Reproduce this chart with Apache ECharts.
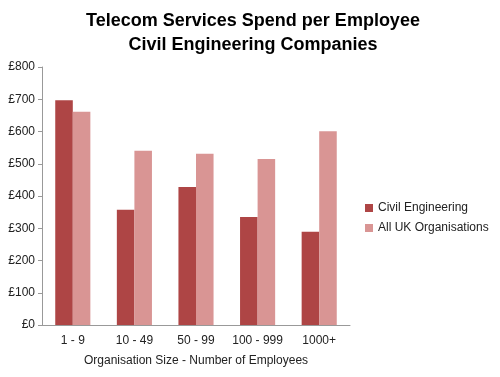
<!DOCTYPE html>
<html>
<head>
<meta charset="utf-8">
<script src="https://cdn.jsdelivr.net/npm/echarts@6/dist/echarts.min.js"></script>
<style>
  html, body { margin: 0; padding: 0; background: #fff; }
  #chart { width: 500px; height: 377px; }
</style>
</head>
<body>
<div id="chart"></div>
<script>
const categories = ['1 - 9', '10 - 49', '50 - 99', '100 - 999', '1000+']
const civilEngineering = [697, 357, 428, 335, 289]
const allUkOrganisations = [661, 540, 531, 515, 601]

const chart = echarts.init(document.getElementById('chart'))
const font = 'Liberation Sans, Arial, sans-serif'

chart.setOption({
  animation: false,
  textStyle: { fontFamily: font },
  title: {
    text: 'Telecom Services Spend per Employee\nCivil Engineering Companies',
    left: 248,
    top: 4,
    textAlign: 'center',
    textStyle: { fontSize: 18, fontWeight: 'bold', color: '#000', lineHeight: 24, fontFamily: font },
  },
  legend: {
    orient: 'vertical',
    left: 360,
    top: 197,
    itemWidth: 8,
    itemHeight: 8,
    itemGap: 8,
    icon: 'rect',
    textStyle: { fontSize: 12, color: '#222', fontFamily: font },
    data: ['Civil Engineering', 'All UK Organisations'],
  },
  grid: { left: 42, right: 150, top: 67, bottom: 52 },
  xAxis: {
    type: 'category',
    data: categories,
    name: 'Organisation Size - Number of Employees',
    nameLocation: 'middle',
    nameGap: 30,
    nameTextStyle: { fontSize: 12, color: '#222' },
    axisLine: { lineStyle: { color: '#999' } },
    axisTick: { show: false },
    axisLabel: { interval: 0, fontSize: 12, color: '#222', margin: 10 },
  },
  yAxis: {
    type: 'value',
    min: 0,
    max: 800,
    interval: 100,
    axisLine: { show: true, lineStyle: { color: '#999' } },
    axisTick: { show: true, length: 4, lineStyle: { color: '#999' } },
    splitLine: { show: false },
    axisLabel: { fontSize: 12, color: '#222', margin: 7, formatter: (v) => '£' + v },
  },
  series: [
    {
      name: 'Civil Engineering',
      type: 'bar',
      data: civilEngineering,
      itemStyle: { color: '#AE4545' },
      barGap: '0%',
      barCategoryGap: '43%',
    },
    {
      name: 'All UK Organisations',
      type: 'bar',
      data: allUkOrganisations,
      itemStyle: { color: '#D99594' },
    },
  ],
})
</script>
</body>
</html>
